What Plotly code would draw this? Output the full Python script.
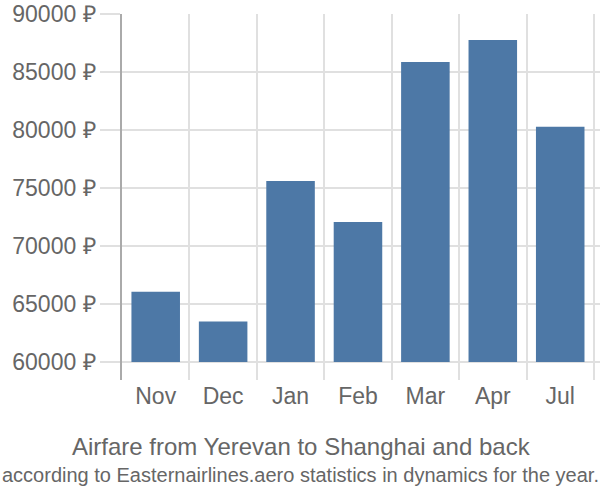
import plotly.graph_objects as go

months = ["Nov", "Dec", "Jan", "Feb", "Mar", "Apr", "Jul"]
prices = [66060, 63490, 75600, 72070, 85860, 87760, 80290]
y_ticks = [60000, 65000, 70000, 75000, 80000, 85000, 90000]
base_value = 60000

title = "Airfare from Yerevan to Shanghai and back"
subtitle = "according to Easternairlines.aero statistics in dynamics for the year."

x = list(range(len(months)))
fig = go.Figure()
fig.add_trace(go.Bar(
    x=x,
    y=[p - base_value for p in prices],
    base=base_value,
    width=0.72,
    marker=dict(color="#4d78a6", line=dict(width=0)),
    hoverinfo="skip",
))

font_family = "Liberation Sans, Arial, sans-serif"
fig.update_layout(
    width=600, height=500,
    margin=dict(l=122, r=0, t=14, b=120),
    paper_bgcolor="white", plot_bgcolor="white",
    showlegend=False,
    font=dict(family=font_family, color="#666666"),
)
fig.update_xaxes(
    range=[-0.5, 6.59],
    tickvals=x, ticktext=months,
    tickfont=dict(size=23, color="#666666"),
    showgrid=False, zeroline=False, showline=False, ticks="",
    minor=dict(tickvals=[i - 0.5 for i in range(len(months) + 1)],
               showgrid=True, gridcolor="#e0e0e0", gridwidth=1.5, ticks=""),
)
fig.update_yaxes(
    range=[58448, 90000],
    tickvals=y_ticks, ticktext=[f"{v} ₽" for v in y_ticks],
    tickfont=dict(size=23, color="#666666"),
    showgrid=True, gridcolor="#e0e0e0", gridwidth=1.5,
    ticks="outside", ticklen=20, tickcolor="#e0e0e0", tickwidth=1.5,
    showline=True, linecolor="#aaaaaa", linewidth=1.5,
    zeroline=False,
)

plot_left, plot_right = 122, 600
plot_top, plot_bottom = 14, 380

def px_x(px):
    return (px - plot_left) / (plot_right - plot_left)

def px_y(py):
    return (plot_bottom - py) / (plot_bottom - plot_top)

fig.add_annotation(text=title, x=px_x(301), xref="paper", xanchor="center",
                   y=px_y(446), yref="paper", yanchor="middle", showarrow=False,
                   font=dict(size=24, color="#666666", family=font_family))
fig.add_annotation(text=subtitle, x=px_x(300), xref="paper", xanchor="center",
                   y=px_y(475), yref="paper", yanchor="middle", showarrow=False,
                   font=dict(size=20, color="#666666", family=font_family))

fig.write_html("out.html")
